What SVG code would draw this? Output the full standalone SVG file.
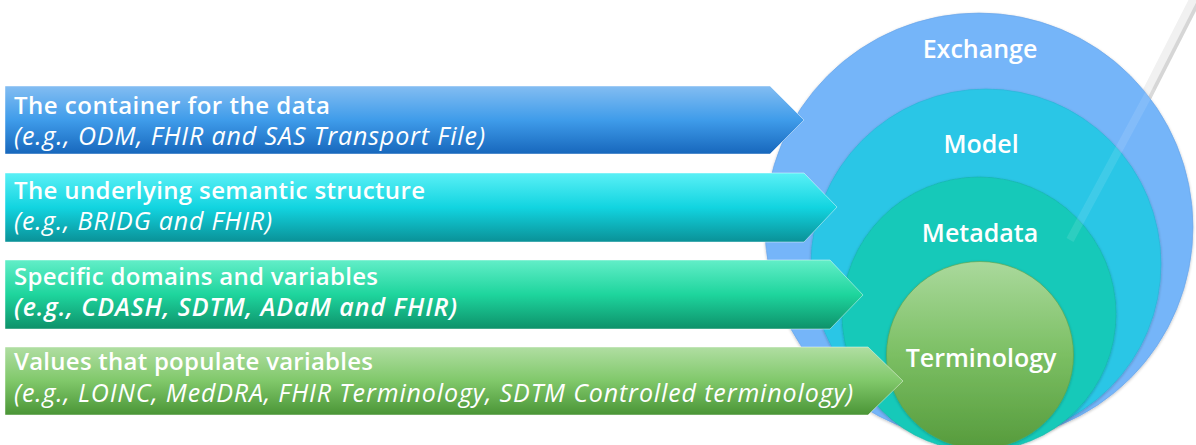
<svg xmlns="http://www.w3.org/2000/svg" width="1196" height="445" viewBox="0 0 1196 445">
  <defs>
    <linearGradient id="gBlue" x1="0" y1="0" x2="0" y2="1">
      <stop offset="0" stop-color="#83BDF2"/>
      <stop offset="0.5" stop-color="#3F9CEA"/>
      <stop offset="1" stop-color="#1767BC"/>
    </linearGradient>
    <linearGradient id="gCyan" x1="0" y1="0" x2="0" y2="1">
      <stop offset="0" stop-color="#5AF0F6"/>
      <stop offset="0.5" stop-color="#12D4E0"/>
      <stop offset="1" stop-color="#0A9197"/>
    </linearGradient>
    <linearGradient id="gTeal" x1="0" y1="0" x2="0" y2="1">
      <stop offset="0" stop-color="#62EEC8"/>
      <stop offset="0.5" stop-color="#1ED59D"/>
      <stop offset="1" stop-color="#0D916A"/>
    </linearGradient>
    <linearGradient id="gGreen" x1="0" y1="0" x2="0" y2="1">
      <stop offset="0" stop-color="#B0DEA2"/>
      <stop offset="0.5" stop-color="#80C86A"/>
      <stop offset="1" stop-color="#4A9536"/>
    </linearGradient>
    <linearGradient id="gTerm" x1="0" y1="0" x2="0" y2="1">
      <stop offset="0" stop-color="#AAD99C"/>
      <stop offset="0.5" stop-color="#7BBF63"/>
      <stop offset="1" stop-color="#569B3C"/>
    </linearGradient>
    <filter id="soft" x="-5%" y="-5%" width="110%" height="110%">
      <feGaussianBlur in="SourceAlpha" stdDeviation="1.5"/>
      <feOffset dx="0" dy="1"/>
      <feComponentTransfer><feFuncA type="linear" slope="0.25"/></feComponentTransfer>
      <feMerge><feMergeNode/><feMergeNode in="SourceGraphic"/></feMerge>
    </filter>
  </defs>
  <style>
    .ring { stroke-width: 1; stroke-opacity: 0.6; filter: url(#soft); }
    .arrow { stroke: #FFFFFF; stroke-opacity: 0.45; stroke-width: 1; }
    .t1 { font-family: "Open Sans", "Liberation Sans", sans-serif; font-size: 24px; font-weight: 600; fill: #FFFFFF; }
    .t2 { font-family: "Open Sans", "Liberation Sans", sans-serif; font-size: 25px; font-style: italic; fill: #FFFFFF; }
    .t2b { font-weight: 600; }
    .lbl { font-family: "Open Sans", "Liberation Sans", sans-serif; font-size: 25px; font-weight: 600; fill: #FFFFFF; text-anchor: middle; }
  </style>

  <!-- glare stripe behind the target -->
  <line x1="1199" y1="-6" x2="1143" y2="104" stroke="#D6D6D6" stroke-width="10"/>
  <line x1="1196" y1="-6" x2="1140" y2="104" stroke="#F1F1F1" stroke-width="8"/>

  <!-- nested target circles -->
  <g id="exchange">
    <circle class="ring" cx="979" cy="227" r="214" fill="#74B5F9" stroke="#6AA3E6"/>
    <text class="lbl" x="980" y="58">Exchange</text>
  </g>
  <g id="model">
    <circle class="ring" cx="986" cy="264" r="175" fill="#2BC6E6" stroke="#27B4D6"/>
    <text class="lbl" x="981" y="153">Model</text>
  </g>
  <g id="metadata">
    <circle class="ring" cx="979" cy="314" r="137" fill="#17C9B9" stroke="#15B5A6"/>
    <text class="lbl" x="980" y="242">Metadata</text>
  </g>
  <g id="terminology">
    <circle class="ring" cx="980" cy="355" r="93.5" fill="url(#gTerm)" stroke="#5FA347"/>
    <text class="lbl" x="981" y="367">Terminology</text>
  </g>

  <!-- faint glare carried across the rings -->
  <line x1="1152" y1="88" x2="1070" y2="240" stroke="#FFFFFF" stroke-opacity="0.1" stroke-width="8"/>

  <!-- pointer banners -->
  <g id="arrow-exchange">
    <polygon class="arrow" points="5,86 770,86 804,120 770,154 5,154" fill="url(#gBlue)"/>
    <text class="t1" x="14" y="114" textLength="316" lengthAdjust="spacing">The container for the data</text>
    <text class="t2" x="14" y="145" textLength="471" lengthAdjust="spacing">(e.g., ODM, FHIR and SAS Transport File)</text>
  </g>
  <g id="arrow-model">
    <polygon class="arrow" points="5,173 804,173 837,207 804,242 5,242" fill="url(#gCyan)"/>
    <text class="t1" x="14" y="199" textLength="411" lengthAdjust="spacing">The underlying semantic structure</text>
    <text class="t2" x="14" y="230" textLength="258" lengthAdjust="spacing">(e.g., BRIDG and FHIR)</text>
  </g>
  <g id="arrow-metadata">
    <polygon class="arrow" points="5,260 830,260 863,295 830,329 5,329" fill="url(#gTeal)"/>
    <text class="t1" x="14" y="285" textLength="364" lengthAdjust="spacing">Specific domains and variables</text>
    <text class="t2 t2b" x="14" y="316" textLength="443" lengthAdjust="spacing">(e.g., CDASH, SDTM, ADaM and FHIR)</text>
  </g>
  <g id="arrow-terminology">
    <polygon class="arrow" points="5,347 868,347 903,381 868,415 5,415" fill="url(#gGreen)"/>
    <text class="t1" x="14" y="370" textLength="359" lengthAdjust="spacing">Values that populate variables</text>
    <text class="t2" x="14" y="402" textLength="839" lengthAdjust="spacing">(e.g., LOINC, MedDRA, FHIR Terminology, SDTM Controlled terminology)</text>
  </g>

  <!-- no connectors in this figure -->
  <g id="connectors"/>
</svg>
